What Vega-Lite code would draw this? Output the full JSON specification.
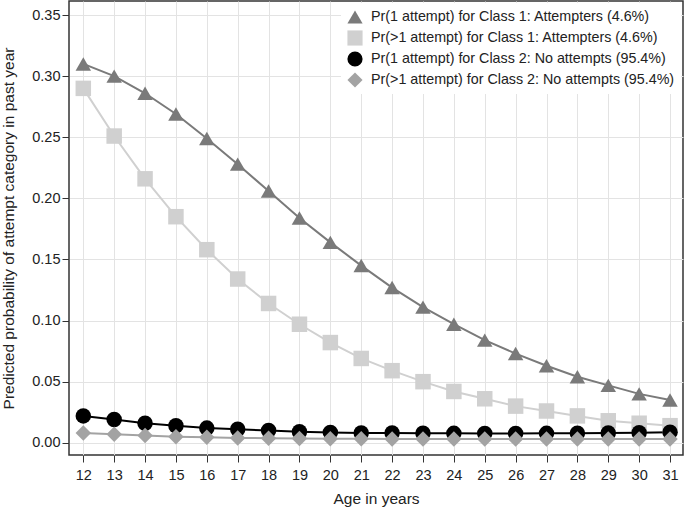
{
  "$schema": "https://vega.github.io/schema/vega-lite/v6.json",
  "width": 614,
  "height": 454,
  "autosize": "none",
  "padding": {"left": 69, "top": 1, "right": 2, "bottom": 54},
  "config": {
    "font": "Liberation Sans",
    "view": {"stroke": "#333333", "strokeWidth": 1.5},
    "axis": {"labelFontSize": 14.5, "titleFontSize": 15.5, "titleFontWeight": "normal", "labelColor": "#222222", "titleColor": "#222222", "gridColor": "#e3e3e3", "gridWidth": 1, "tickColor": "#333333", "tickSize": 7, "domain": false},
    "legend": {"labelFontSize": 14.3, "labelColor": "#222222", "labelLimit": 400, "symbolSize": 230, "labelOffset": 8, "rowPadding": 5, "padding": 6, "fillColor": "white", "strokeColor": null, "symbolStrokeWidth": 0, "offset": 2}
  },
  "data": {"values": [
    {"age": 12, "s": "t", "p": 0.310}, {"age": 13, "s": "t", "p": 0.300}, {"age": 14, "s": "t", "p": 0.286}, {"age": 15, "s": "t", "p": 0.269}, {"age": 16, "s": "t", "p": 0.249}, {"age": 17, "s": "t", "p": 0.228}, {"age": 18, "s": "t", "p": 0.206}, {"age": 19, "s": "t", "p": 0.184}, {"age": 20, "s": "t", "p": 0.164}, {"age": 21, "s": "t", "p": 0.145}, {"age": 22, "s": "t", "p": 0.127}, {"age": 23, "s": "t", "p": 0.111}, {"age": 24, "s": "t", "p": 0.097}, {"age": 25, "s": "t", "p": 0.084}, {"age": 26, "s": "t", "p": 0.073}, {"age": 27, "s": "t", "p": 0.063}, {"age": 28, "s": "t", "p": 0.054}, {"age": 29, "s": "t", "p": 0.047}, {"age": 30, "s": "t", "p": 0.040}, {"age": 31, "s": "t", "p": 0.035},
    {"age": 12, "s": "q", "p": 0.290}, {"age": 13, "s": "q", "p": 0.251}, {"age": 14, "s": "q", "p": 0.216}, {"age": 15, "s": "q", "p": 0.185}, {"age": 16, "s": "q", "p": 0.158}, {"age": 17, "s": "q", "p": 0.134}, {"age": 18, "s": "q", "p": 0.114}, {"age": 19, "s": "q", "p": 0.097}, {"age": 20, "s": "q", "p": 0.082}, {"age": 21, "s": "q", "p": 0.069}, {"age": 22, "s": "q", "p": 0.059}, {"age": 23, "s": "q", "p": 0.050}, {"age": 24, "s": "q", "p": 0.042}, {"age": 25, "s": "q", "p": 0.036}, {"age": 26, "s": "q", "p": 0.030}, {"age": 27, "s": "q", "p": 0.026}, {"age": 28, "s": "q", "p": 0.022}, {"age": 29, "s": "q", "p": 0.018}, {"age": 30, "s": "q", "p": 0.016}, {"age": 31, "s": "q", "p": 0.014},
    {"age": 12, "s": "c", "p": 0.022}, {"age": 13, "s": "c", "p": 0.019}, {"age": 14, "s": "c", "p": 0.016}, {"age": 15, "s": "c", "p": 0.014}, {"age": 16, "s": "c", "p": 0.012}, {"age": 17, "s": "c", "p": 0.011}, {"age": 18, "s": "c", "p": 0.010}, {"age": 19, "s": "c", "p": 0.009}, {"age": 20, "s": "c", "p": 0.0085}, {"age": 21, "s": "c", "p": 0.008}, {"age": 22, "s": "c", "p": 0.008}, {"age": 23, "s": "c", "p": 0.0078}, {"age": 24, "s": "c", "p": 0.0077}, {"age": 25, "s": "c", "p": 0.0076}, {"age": 26, "s": "c", "p": 0.0076}, {"age": 27, "s": "c", "p": 0.0077}, {"age": 28, "s": "c", "p": 0.0078}, {"age": 29, "s": "c", "p": 0.008}, {"age": 30, "s": "c", "p": 0.0083}, {"age": 31, "s": "c", "p": 0.0087},
    {"age": 12, "s": "d", "p": 0.008}, {"age": 13, "s": "d", "p": 0.007}, {"age": 14, "s": "d", "p": 0.006}, {"age": 15, "s": "d", "p": 0.005}, {"age": 16, "s": "d", "p": 0.0045}, {"age": 17, "s": "d", "p": 0.004}, {"age": 18, "s": "d", "p": 0.0037}, {"age": 19, "s": "d", "p": 0.0035}, {"age": 20, "s": "d", "p": 0.0033}, {"age": 21, "s": "d", "p": 0.0032}, {"age": 22, "s": "d", "p": 0.0031}, {"age": 23, "s": "d", "p": 0.003}, {"age": 24, "s": "d", "p": 0.003}, {"age": 25, "s": "d", "p": 0.003}, {"age": 26, "s": "d", "p": 0.003}, {"age": 27, "s": "d", "p": 0.003}, {"age": 28, "s": "d", "p": 0.003}, {"age": 29, "s": "d", "p": 0.003}, {"age": 30, "s": "d", "p": 0.003}, {"age": 31, "s": "d", "p": 0.003}
  ]},
  "transform": [
    {"lookup": "s", "from": {"data": {"values": [
      {"s": "t", "label": "Pr(1 attempt) for Class 1: Attempters (4.6%)"},
      {"s": "q", "label": "Pr(>1 attempt) for Class 1: Attempters (4.6%)"},
      {"s": "c", "label": "Pr(1 attempt) for Class 2: No attempts (95.4%)"},
      {"s": "d", "label": "Pr(>1 attempt) for Class 2: No attempts (95.4%)"}
    ]}, "key": "s", "fields": ["label"]}}
  ],
  "encoding": {
    "x": {"field": "age", "type": "quantitative", "title": "Age in years",
      "scale": {"domain": [11.537, 31.42], "nice": false, "zero": false},
      "axis": {"values": [12,13,14,15,16,17,18,19,20,21,22,23,24,25,26,27,28,29,30,31], "titlePadding": 10, "labelPadding": 6}},
    "y": {"field": "p", "type": "quantitative", "title": "Predicted probability of attempt category in past year",
      "scale": {"domain": [-0.010, 0.3615], "nice": false, "zero": false},
      "axis": {"values": [0, 0.05, 0.1, 0.15, 0.2, 0.25, 0.3, 0.35], "format": ".2f", "titlePadding": 15, "labelPadding": 2}}
  },
  "layer": [
    {
      "mark": {"type": "line", "strokeWidth": 2},
      "encoding": {
        "detail": {"field": "s"},
        "stroke": {"field": "s", "type": "nominal", "legend": null,
          "scale": {"domain": ["t", "q", "c", "d"], "range": ["#7a7a7a", "#d0d0d0", "#000000", "#a3a3a3"]}}
      }
    },
    {
      "mark": {"type": "point", "filled": true, "opacity": 1, "size": 240},
      "encoding": {
        "color": {"field": "label", "type": "nominal", "title": null,
          "legend": {"orient": "top-right"},
          "scale": {"domain": ["Pr(1 attempt) for Class 1: Attempters (4.6%)", "Pr(>1 attempt) for Class 1: Attempters (4.6%)", "Pr(1 attempt) for Class 2: No attempts (95.4%)", "Pr(>1 attempt) for Class 2: No attempts (95.4%)"],
            "range": ["#7a7a7a", "#d0d0d0", "#000000", "#a3a3a3"]}},
        "shape": {"field": "label", "type": "nominal", "title": null,
          "legend": {"orient": "top-right"},
          "scale": {"domain": ["Pr(1 attempt) for Class 1: Attempters (4.6%)", "Pr(>1 attempt) for Class 1: Attempters (4.6%)", "Pr(1 attempt) for Class 2: No attempts (95.4%)", "Pr(>1 attempt) for Class 2: No attempts (95.4%)"],
            "range": ["triangle-up", "square", "circle", "diamond"]}}
      }
    }
  ]
}
